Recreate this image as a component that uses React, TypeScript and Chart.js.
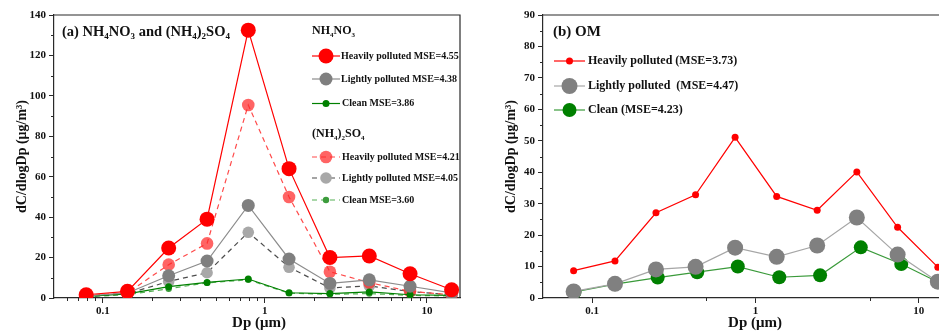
import React, { useEffect, useRef } from 'react';
import { Chart, registerables } from 'chart.js';
Chart.register(...registerables);

const FONT = '"Liberation Serif", "Times New Roman", serif';

// Particle size (Dp, µm)
const dpA = [0.079, 0.142, 0.255, 0.44, 0.79, 1.41, 2.52, 4.41, 7.87, 14.2];
const dpB = [0.077, 0.138, 0.246, 0.43, 0.751, 1.35, 2.39, 4.18, 7.43, 13.1];
const dpC = [0.078, 0.138, 0.252, 0.44, 0.78, 1.4, 2.49, 4.42, 7.82, 13.1];

// (a) NH4NO3 and (NH4)2SO4
const nitrateHeavy = [1.6, 3.3, 24.7, 39, 132.5, 64, 20, 20.8, 12, 4.1];
const nitrateLight = [1.0, 2.5, 11, 18.3, 45.8, 19.3, 7.2, 9, 5.8, 2.5];
const nitrateClean = [0.8, 2.0, 5.6, 7.7, 9.4, 2.6, 2.2, 3.0, 1.6, 1.3];
const sulfateHeavy = [1.2, 2.5, 16.5, 27, 95.5, 50, 13, 7.6, 3.3, 1.6];
const sulfateLight = [0.8, 2.1, 8.2, 12.5, 32.5, 15.2, 5, 6, 3.2, 1.6];
const sulfateClean = [0.7, 1.6, 4.6, 7.5, 9, 2.4, 1.8, 2.2, 1.3, 1.0];

// (b) OM
const omHeavy = [8.7, 11.8, 27.1, 32.8, 51.1, 32.3, 27.9, 40.1, 22.5, 9.8];
const omLight = [2.1, 4.5, 9.1, 9.9, 16.0, 13.1, 16.7, 25.6, 13.8, 5.2];
const omClean = [1.9, 4.4, 6.5, 8.2, 10.0, 6.6, 7.2, 16.1, 10.8, 5.1];

// Tick values
const xMajorTicks = [0.1, 1, 10];
const xMinorLeft = [0.06, 0.07, 0.08, 0.09, 0.2, 0.3, 0.4, 0.5, 0.6, 0.7, 0.8, 0.9, 2, 3, 4, 5, 6, 7, 8, 9];
const xMinorRight = [0.5, 5];
const yMinorLeft = [10, 30, 50, 70, 90, 110, 130];
const yMinorRight = [5, 15, 25, 35, 45, 55, 65, 75, 85];

const Y_TITLE = 'dC/dlogDp (\u03bcg/m\u00b3)';
const X_TITLE = 'Dp (\u03bcm)';

function pts(xs: number[], ys: number[]) {
  return xs.map((x, i) => ({ x, y: ys[i] }));
}

function drawRich(ctx: CanvasRenderingContext2D, text: string, x: number, y: number, size: number) {
  // '_' followed by a char => subscript
  let cx = x;
  ctx.textBaseline = 'middle';
  ctx.textAlign = 'left';
  for (let i = 0; i < text.length; i++) {
    let ch = text[i];
    if (ch === '_' && i + 1 < text.length) {
      ch = text[++i];
      ctx.font = `bold ${Math.round(size * 0.62)}px ${FONT}`;
      ctx.fillText(ch, cx, y + size * 0.32);
      cx += ctx.measureText(ch).width;
    } else {
      ctx.font = `bold ${size}px ${FONT}`;
      ctx.fillText(ch, cx, y);
      cx += ctx.measureText(ch).width;
    }
  }
}

const decorPlugin = {
  id: 'decor',
  afterDatasetsDraw(chart: any) {
    const opts = chart.options.plugins.decor;
    if (!opts) return;
    const { ctx, chartArea } = chart;
    const { left, top, right, bottom } = chartArea;
    ctx.save();
    // box
    ctx.strokeStyle = '#2a2a2a';
    ctx.lineWidth = 1.2;
    ctx.beginPath();
    ctx.moveTo(left, top);
    ctx.lineTo(right, top);
    ctx.lineTo(right, bottom);
    ctx.stroke();
    // minor ticks
    ctx.lineWidth = 1;
    const xs = chart.scales.x;
    const ys = chart.scales.y;
    ctx.beginPath();
    (opts.xMinor || []).forEach((v: number) => {
      const px = Math.round(xs.getPixelForValue(v)) + 0.5;
      ctx.moveTo(px, bottom);
      ctx.lineTo(px, bottom + 3);
    });
    (opts.yMinor || []).forEach((v: number) => {
      const py = Math.round(ys.getPixelForValue(v)) + 0.5;
      ctx.moveTo(left, py);
      ctx.lineTo(left - 3, py);
    });
    ctx.stroke();
    ctx.fillStyle = '#111';
    // x-axis title
    if (opts.xTitle) {
      ctx.font = `bold 15px ${FONT}`;
      ctx.textAlign = 'center';
      ctx.textBaseline = 'middle';
      ctx.fillText(X_TITLE, opts.xTitle.x, opts.xTitle.y);
    }
    // panel title
    if (opts.title) drawRich(ctx, opts.title.text, opts.title.x, opts.title.y, opts.title.size);
    (opts.headers || []).forEach((h: any) => drawRich(ctx, h.text, h.x, h.y, h.size));
    // legend entries
    (opts.entries || []).forEach((e: any) => {
      const ds = chart.data.datasets[e.ds];
      ctx.save();
      ctx.strokeStyle = ds.borderColor;
      ctx.lineWidth = ds.borderWidth;
      ctx.setLineDash(ds.borderDash || []);
      ctx.beginPath();
      ctx.moveTo(e.x1, e.y);
      ctx.lineTo(e.x2, e.y);
      ctx.stroke();
      ctx.setLineDash([]);
      ctx.fillStyle = ds.pointBackgroundColor;
      ctx.beginPath();
      ctx.arc((e.x1 + e.x2) / 2, e.y, ds.pointRadius, 0, Math.PI * 2);
      ctx.fill();
      ctx.restore();
      ctx.fillStyle = '#111';
      drawRich(ctx, e.text, e.tx, e.y, e.size);
    });
    ctx.restore();
  },
};

function ds(label: string, xs: number[], ys: number[], line: string, marker: string, r: number, dash?: number[]) {
  return {
    label,
    data: pts(xs, ys),
    borderColor: line,
    borderWidth: 1.2,
    borderDash: dash || [],
    pointBackgroundColor: marker,
    pointBorderColor: marker,
    pointBorderWidth: 0,
    pointRadius: r,
    pointHoverRadius: r,
    tension: 0,
    fill: false,
  };
}

function makeOptions(p: {
  yMax: number; yStep: number; yWidth: number; yTitlePad: number; padRight: number;
  xMinor: number[]; yMinor: number[]; decor: any;
}) {
  const tickFont = { family: FONT, size: 11, weight: 'bold' as const };
  return {
    responsive: false,
    animation: false as const,
    layout: { padding: { top: 15, right: p.padRight, left: 0, bottom: 0 } },
    plugins: {
      legend: { display: false },
      tooltip: { enabled: false },
      decor: { ...p.decor, xMinor: p.xMinor, yMinor: p.yMinor },
    },
    scales: {
      x: {
        type: 'logarithmic' as const,
        min: 0.05,
        max: 16,
        afterBuildTicks: (s: any) => { s.ticks = xMajorTicks.map((v) => ({ value: v })); },
        afterFit: (s: any) => { s.height = 36; },
        ticks: {
          autoSkip: false,
          maxRotation: 0,
          padding: 2,
          color: '#111',
          font: tickFont,
          callback: (v: any) => String(Number(v)),
        },
        grid: { display: true, drawOnChartArea: false, drawTicks: true, tickLength: 5, color: '#2a2a2a', lineWidth: 1 },
        border: { display: true, color: '#2a2a2a', width: 1.2 },
        title: { display: false },
      },
      y: {
        type: 'linear' as const,
        min: 0,
        max: p.yMax,
        afterFit: (s: any) => { s.width = p.yWidth; },
        ticks: { stepSize: p.yStep, padding: 3, color: '#111', font: tickFont },
        grid: { display: true, drawOnChartArea: false, drawTicks: true, tickLength: 5, color: '#2a2a2a', lineWidth: 1 },
        border: { display: true, color: '#2a2a2a', width: 1.2 },
        title: { display: true, text: Y_TITLE, color: '#111', font: { family: FONT, size: 14, weight: 'bold' as const }, padding: { top: p.yTitlePad, bottom: 0 } },
      },
    },
  };
}

export default function App() {
  const leftRef = useRef<HTMLCanvasElement>(null);
  const rightRef = useRef<HTMLCanvasElement>(null);

  useEffect(() => {
    const red = '#ff0000';
    const left = new Chart(leftRef.current!, {
      type: 'line',
      data: {
        datasets: [
          ds('NH4NO3 Heavily polluted', dpA, nitrateHeavy, red, red, 7.5),
          ds('NH4NO3 Lightly polluted', dpA, nitrateLight, '#8c8c8c', '#7f7f7f', 6.5),
          ds('NH4NO3 Clean', dpA, nitrateClean, '#008000', '#008000', 3.5),
          ds('(NH4)2SO4 Heavily polluted', dpA, sulfateHeavy, '#ff4a4a', 'rgba(255,40,40,0.72)', 6.3, [5, 4]),
          ds('(NH4)2SO4 Lightly polluted', dpA, sulfateLight, '#4d4d4d', '#a8a8a8', 5.8, [5, 4]),
          ds('(NH4)2SO4 Clean', dpA, sulfateClean, '#55b055', '#3c9c3c', 3.2, [5, 4]),
        ],
      },
      options: makeOptions({
        yMax: 140, yStep: 20, yWidth: 54, yTitlePad: 14, padRight: 10,
        xMinor: xMinorLeft, yMinor: yMinorLeft,
        decor: {
          xTitle: { x: 259, y: 323.5 },
          title: { text: '(a) NH_4NO_3 and (NH_4)_2SO_4', x: 62, y: 32, size: 14.5 },
          headers: [
            { text: 'NH_4NO_3', x: 312, y: 31, size: 12 },
            { text: '(NH_4)_2SO_4', x: 312, y: 134, size: 12 },
          ],
          entries: [
            { ds: 0, x1: 312, x2: 340, tx: 341, y: 56, text: 'Heavily polluted MSE=4.55', size: 10 },
            { ds: 1, x1: 312, x2: 340, tx: 341, y: 79, text: 'Lightly polluted MSE=4.38', size: 10 },
            { ds: 2, x1: 312, x2: 340, tx: 342, y: 103.5, text: 'Clean MSE=3.86', size: 10 },
            { ds: 3, x1: 312, x2: 340, tx: 342, y: 157, text: 'Heavily polluted MSE=4.21', size: 10 },
            { ds: 4, x1: 312, x2: 340, tx: 342, y: 178, text: 'Lightly polluted MSE=4.05', size: 10 },
            { ds: 5, x1: 312, x2: 340, tx: 342, y: 200, text: 'Clean MSE=3.60', size: 10 },
          ],
        },
      }) as any,
      plugins: [decorPlugin],
    });

    const right = new Chart(rightRef.current!, {
      type: 'line',
      data: {
        datasets: [
          ds('Heavily polluted', dpB, omHeavy, red, red, 3.5),
          ds('Lightly polluted', dpB, omLight, '#a6a6a6', '#808080', 8),
          ds('Clean', dpC, omClean, '#3a9a3a', '#008000', 7),
        ],
      },
      options: makeOptions({
        yMax: 90, yStep: 10, yWidth: 73, yTitlePad: 33, padRight: 8,
        xMinor: xMinorRight, yMinor: yMinorRight,
        decor: {
          xTitle: { x: 285, y: 323.5 },
          title: { text: '(b) OM', x: 83, y: 32, size: 15 },
          headers: [],
          entries: [
            { ds: 0, x1: 84, x2: 115, tx: 118, y: 61, text: 'Heavily polluted (MSE=3.73)', size: 12 },
            { ds: 1, x1: 84, x2: 115, tx: 118, y: 86, text: 'Lightly polluted  (MSE=4.47)', size: 12 },
            { ds: 2, x1: 84, x2: 115, tx: 118, y: 110, text: 'Clean (MSE=4.23)', size: 12 },
          ],
        },
      }) as any,
      plugins: [decorPlugin],
    });

    return () => {
      left.destroy();
      right.destroy();
    };
  }, []);

  return (
    <div style={{ position: 'absolute', left: 0, top: 0, width: 939, height: 334, overflow: 'hidden', background: '#fff' }}>
      <canvas ref={leftRef} width={470} height={334} style={{ position: 'absolute', left: 0, top: 0, width: 470, height: 334 }} />
      <canvas ref={rightRef} width={490} height={334} style={{ position: 'absolute', left: 470, top: 0, width: 490, height: 334 }} />
    </div>
  );
}
